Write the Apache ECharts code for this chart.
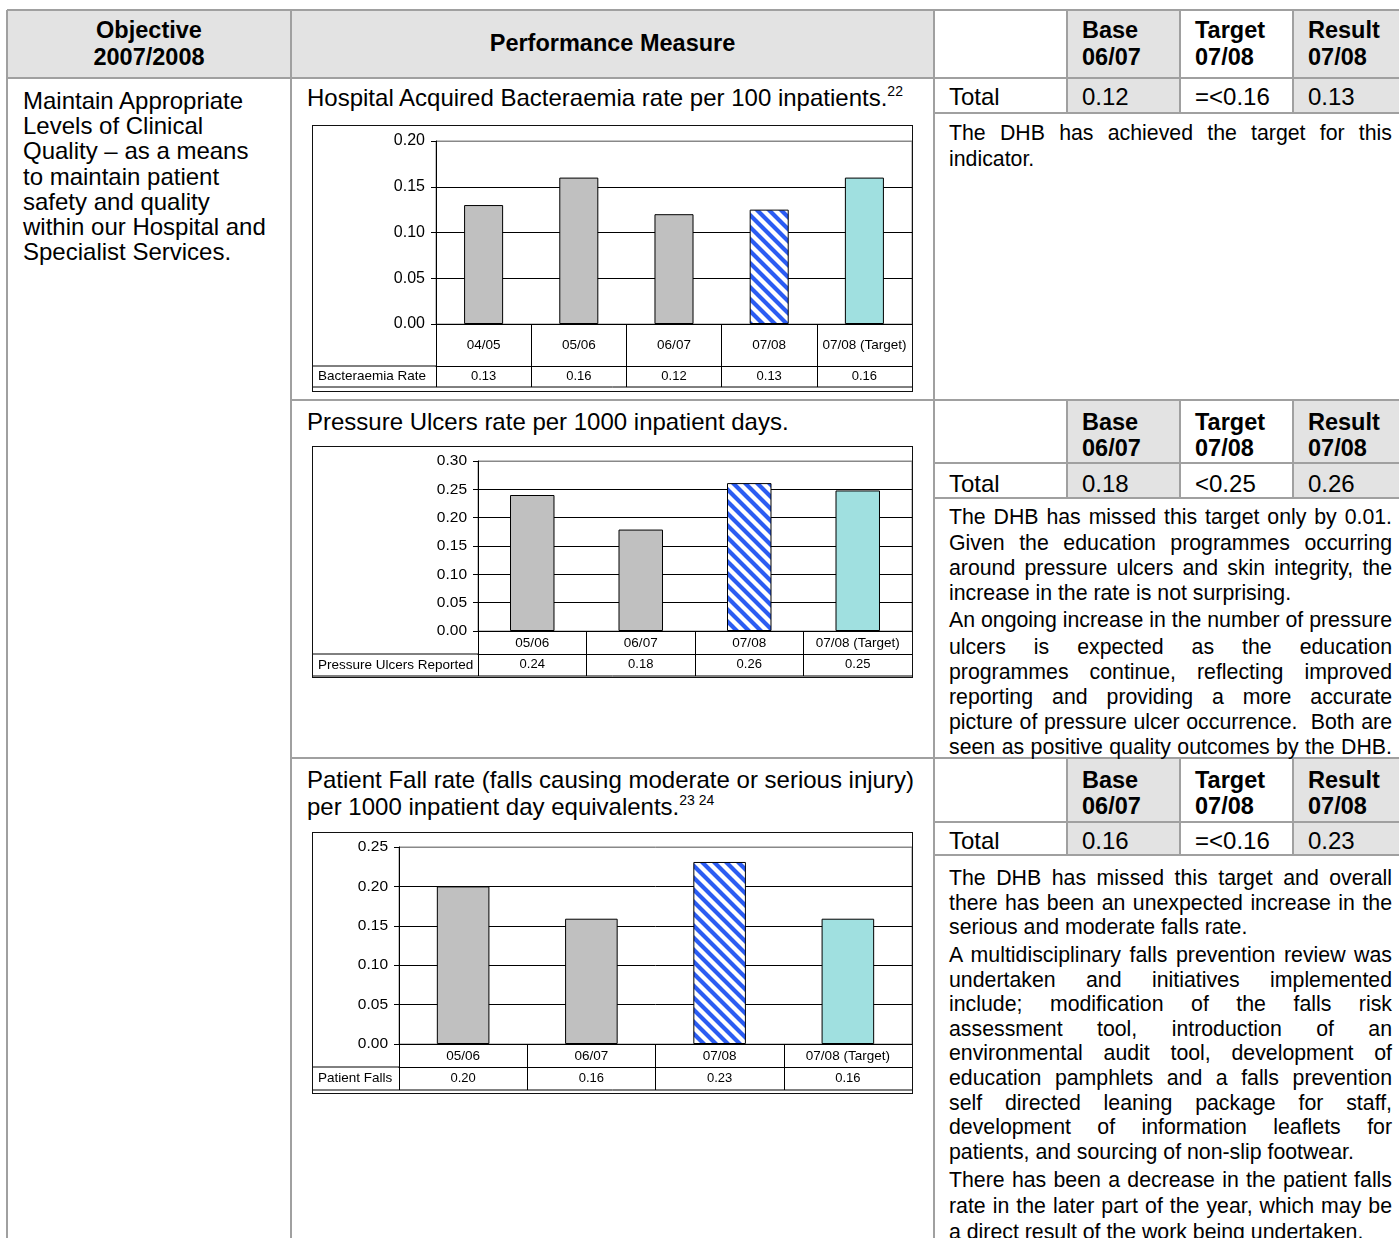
<!DOCTYPE html>
<html>
<head>
<meta charset="utf-8">
<script src="https://cdn.jsdelivr.net/npm/echarts@6/dist/echarts.min.js"></script>
<style>
	body { margin: 0; background: #fff; }
	#page { position: relative; width: 1399px; height: 1238px; overflow: hidden;
		font-family: "Liberation Sans", Arial, sans-serif; color: #000; }
	.t { position: absolute; white-space: nowrap; }
	.h { position: absolute; background: #a0a0a0; }
	.f { position: absolute; background: #e3e3e3; }
	.box { position: absolute; border: 1px solid #111; box-sizing: border-box; background: #fff; }
	.box .c { position: absolute; left: 0; top: 0; right: 0; bottom: 0; }
	sup { font-size: 14px; line-height: 0; vertical-align: 10px; }
</style>
</head>
<body>
<div id="page"></div>
<script>
// ---- chart data ----
var bactCats = ['04/05', '05/06', '06/07', '07/08', '07/08 (Target)'];
var bactValues = [0.13, 0.16, 0.12, 0.125, 0.16];
var bactTable = ['0.13', '0.16', '0.12', '0.13', '0.16'];

var ulcerCats = ['05/06', '06/07', '07/08', '07/08 (Target)'];
var ulcerValues = [0.24, 0.179, 0.261, 0.248];
var ulcerTable = ['0.24', '0.18', '0.26', '0.25'];

var fallCats = ['05/06', '06/07', '07/08', '07/08 (Target)'];
var fallValues = [0.20, 0.159, 0.231, 0.159];
var fallTable = ['0.20', '0.16', '0.23', '0.16'];

// summary tables on the right
var colHeads = [['Base', '06/07'], ['Target', '07/08'], ['Result', '07/08']];
var bactTotals = ['0.12', '=<0.16', '0.13'];
var ulcerTotals = ['0.18', '<0.25', '0.26'];
var fallTotals = ['0.16', '=<0.16', '0.23'];

var page = document.getElementById('page');

function el(cls, css, html) {
	var d = document.createElement('div');
	d.className = cls;
	for (var k in css) d.style[k] = css[k];
	if (html != null) d.innerHTML = html;
	page.appendChild(d);
	return d;
}
function hline(x1, x2, y) { el('h', {left: x1 + 'px', top: (y - 1) + 'px', width: (x2 - x1) + 'px', height: '2px'}); }
function vline(x, y1, y2) { el('h', {left: (x - 1) + 'px', top: y1 + 'px', width: '2px', height: (y2 - y1) + 'px'}); }
function fill(x1, x2, y1, y2) { el('f', {left: x1 + 'px', top: y1 + 'px', width: (x2 - x1) + 'px', height: (y2 - y1) + 'px'}); }
// y is the centre of the line
function text(x, y, s, size, bold) {
	el('t', {left: x + 'px', top: (y - 13) + 'px', fontSize: size + 'px', lineHeight: '26px',
		fontWeight: bold ? 'bold' : 'normal'}, s);
}
function ctext(x1, x2, y, s, size, bold) {
	el('t', {left: x1 + 'px', width: (x2 - x1) + 'px', textAlign: 'center', top: (y - 13) + 'px',
		fontSize: size + 'px', lineHeight: '26px', fontWeight: bold ? 'bold' : 'normal'}, s);
}
function jtext(x, w, y, s, size, justify) {
	el('t', {left: x + 'px', width: w + 'px', top: (y - 13) + 'px', fontSize: size + 'px', lineHeight: '26px',
		whiteSpace: 'normal', textAlign: justify ? 'justify' : 'left', textAlignLast: justify ? 'justify' : 'left'}, s);
}

// ---- table frame ----
var COL = [934, 1067, 1180, 1293, 1400];
fill(8, 290, 11, 77);
fill(292, 933, 11, 77);
fill(1068, 1179, 11, 77);
fill(1294, 1400, 11, 77);
fill(1068, 1179, 79, 112);
fill(1294, 1400, 79, 112);

function sectionHead(y0, y1, y2, totals) {
	fill(1068, 1179, y0 + 1, y2 - 1);
	fill(1294, 1400, y0 + 1, y2 - 1);
	hline(934, 1400, y1);
	hline(934, 1400, y2);
	for (var i = 1; i < 4; i++) vline(COL[i], y0, y2);
	for (var j = 0; j < 3; j++) {
		text(COL[j + 1] + 15, y0 + 22, colHeads[j][0], 23.5, true);
		text(COL[j + 1] + 15, y0 + 48, colHeads[j][1], 23.5, true);
	}
	text(949, y2 - 14, 'Total', 24);
	for (var k = 0; k < 3; k++) text(COL[k + 1] + 15, y2 - 14, totals[k], 24);
}

hline(7, 1400, 10);
hline(7, 1400, 78);
vline(7, 10, 1238);
vline(291, 10, 1238);
vline(934, 10, 1238);
for (var i = 1; i < 4; i++) vline(COL[i], 10, 113);
hline(934, 1400, 113);
hline(291, 1400, 400);
hline(291, 1400, 758);

// header row
ctext(7, 291, 30, 'Objective', 23.5, true);
ctext(7, 291, 57, '2007/2008', 23.5, true);
ctext(291, 934, 43, 'Performance Measure', 23.5, true);
for (var j = 0; j < 3; j++) {
	text(COL[j + 1] + 15, 30, colHeads[j][0], 23.5, true);
	text(COL[j + 1] + 15, 57, colHeads[j][1], 23.5, true);
}
text(949, 97, 'Total', 24);
for (var k = 0; k < 3; k++) text(COL[k + 1] + 15, 97, bactTotals[k], 24);

sectionHead(400, 463, 498, ulcerTotals);
sectionHead(758, 822, 855, fallTotals);

// objective column
var objLines = ['Maintain Appropriate', 'Levels of Clinical', 'Quality \u2013 as a means', 'to maintain patient',
	'safety and quality', 'within our Hospital and', 'Specialist Services.'];
objLines.forEach(function(s, i) { text(23, 101 + i * 25.2, s, 24); });

// measure titles
text(307, 98, 'Hospital Acquired Bacteraemia rate per 100 inpatients.<sup>22</sup>', 24);
text(307, 422, 'Pressure Ulcers rate per 1000 inpatient days.', 24);
text(307, 780, 'Patient Fall rate (falls causing moderate or serious injury)', 24);
text(307, 807, 'per 1000 inpatient day equivalents.<sup>23 24</sup>', 24);

// commentary
var notes = [
	[133, 'The DHB has achieved the target for this', 1],
	[159, 'indicator.', 0],
	[517, 'The DHB has missed this target only by 0.01.', 1],
	[543, 'Given the education programmes occurring', 1],
	[568, 'around pressure ulcers and skin integrity, the', 1],
	[593, 'increase in the rate is not surprising.', 0],
	[620, 'An ongoing increase in the number of pressure', 1],
	[647, 'ulcers is expected as the education', 1],
	[672, 'programmes continue, reflecting improved', 1],
	[697, 'reporting and providing a more accurate', 1],
	[722, 'picture of pressure ulcer occurrence.&nbsp; Both are', 1],
	[747, 'seen as positive quality outcomes by the DHB.', 1],
	[878, 'The DHB has missed this target and overall', 1],
	[903, 'there has been an unexpected increase in the', 1],
	[927, 'serious and moderate falls rate.', 0],
	[955, 'A multidisciplinary falls prevention review was', 1],
	[980, 'undertaken and initiatives implemented', 1],
	[1004, 'include; modification of the falls risk', 1],
	[1029, 'assessment tool, introduction of an', 1],
	[1053, 'environmental audit tool, development of', 1],
	[1078, 'education pamphlets and a falls prevention', 1],
	[1103, 'self directed leaning package for staff,', 1],
	[1127, 'development of information leaflets for', 1],
	[1152, 'patients, and sourcing of non-slip footwear.', 0],
	[1180, 'There has been a decrease in the patient falls', 1],
	[1206, 'rate in the later part of the year, which may be', 1],
	[1232, 'a direct result of the work being undertaken.', 0]
];
notes.forEach(function(n) { jtext(949, 443, n[0], n[1], 21.3, n[2]); });

// ---- charts ----
function stripes() {
	var s = 12;
	var c = document.createElement('canvas');
	c.width = s; c.height = s;
	var g = c.getContext('2d');
	g.fillStyle = '#fff';
	g.fillRect(0, 0, s, s);
	g.strokeStyle = '#2b5cf2';
	g.lineWidth = 4.2;
	g.beginPath();
	g.moveTo(-s / 2, -s / 2); g.lineTo(s * 1.5, s * 1.5);
	g.moveTo(-s / 2, s / 2); g.lineTo(s / 2, s * 1.5);
	g.moveTo(s / 2, -s / 2); g.lineTo(s * 1.5, s / 2);
	g.stroke();
	return c;
}
var hatch = stripes();

function barChart(L, cats, values, table, rowName) {
	var box = el('box', {left: L.left + 'px', top: L.top + 'px', width: L.width + 'px', height: L.height + 'px'});
	var div = document.createElement('div');
	div.className = 'c';
	box.appendChild(div);
	var chart = echarts.init(div);
	var n = cats.length;
	var ticks = Math.round(L.yMax / 0.05) + 1;
	var splitColors = [];
	for (var i = 0; i < ticks; i++) splitColors.push(i === ticks - 1 ? '#888' : '#000');
	var tableTop = L.gridTop + L.plotH + L.catH;
	var tableBottom = tableTop + L.dataH;
	var w = L.width - 2;

	var option = {
		animation: false,
		textStyle: {fontFamily: '"Liberation Sans", Arial, sans-serif', color: '#000'},
		grid: {left: L.gridLeft, top: L.gridTop, right: 0, height: L.plotH, containLabel: false,
			outerBoundsMode: 'none', show: true, borderColor: '#888', borderWidth: 1},
		xAxis: [{
			type: 'category', data: cats, position: 'bottom',
			axisLine: {show: true, lineStyle: {color: '#000', width: 1}},
			axisTick: {show: true, interval: 0, length: L.catH + L.dataH, lineStyle: {color: '#000'}},
			axisLabel: {interval: 0, fontSize: 13.5, color: '#000', margin: L.catMargin},
			splitLine: {show: false}
		}, {
			type: 'category', data: cats, position: 'bottom', offset: L.catH,
			axisLine: {show: true, lineStyle: {color: '#000', width: 1}},
			axisTick: {show: false},
			axisLabel: {interval: 0, fontSize: 13, color: '#000', margin: L.dataMargin,
				formatter: function(v, idx) { return table[idx]; }},
			splitLine: {show: false}
		}],
		yAxis: {
			type: 'value', min: 0, max: L.yMax, interval: 0.05,
			axisLine: {show: true, lineStyle: {color: '#000'}},
			axisTick: {show: true, length: 5, lineStyle: {color: '#000'}},
			axisLabel: {fontSize: L.yFont, color: '#000', margin: 11,
				formatter: function(v) { return v.toFixed(2); }},
			splitLine: {show: true, lineStyle: {color: splitColors, width: 1}}
		},
		graphic: [
			{type: 'line', shape: {x1: 0, y1: tableTop, x2: L.gridLeft, y2: tableTop}, style: {stroke: '#000', lineWidth: 1}},
			{type: 'line', shape: {x1: 0, y1: tableBottom, x2: w, y2: tableBottom}, style: {stroke: '#000', lineWidth: 1}},
			{type: 'text', x: 5, y: tableTop + L.dataH / 2,
				style: {text: rowName, fontSize: 13.5, fontFamily: '"Liberation Sans", Arial, sans-serif',
					fill: '#000', align: 'left', verticalAlign: 'middle'}}
		],
		series: [{
			type: 'bar', xAxisIndex: 0, yAxisIndex: 0, barWidth: '41%',
			itemStyle: {borderColor: '#000', borderWidth: 1},
			data: values.map(function(v, i) {
				var c = '#c0c0c0';
				if (i === n - 1) c = '#a0e0e0';
				else if (i === n - 2) c = {image: hatch, repeat: 'repeat'};
				return {value: v, itemStyle: {color: c}};
			})
		}]
	};
	chart.setOption(option);
	return chart;
}

barChart({left: 312, top: 125, width: 601, height: 267, gridLeft: 123, gridTop: 15, plotH: 183,
	catH: 42, dataH: 21, catMargin: 14, dataMargin: 4, yMax: 0.20, yFont: 16},
	bactCats, bactValues, bactTable, 'Bacteraemia Rate');
barChart({left: 312, top: 446, width: 601, height: 232, gridLeft: 165, gridTop: 14, plotH: 170,
	catH: 23, dataH: 22, catMargin: 5, dataMargin: 4, yMax: 0.30, yFont: 15.5},
	ulcerCats, ulcerValues, ulcerTable, 'Pressure Ulcers Reported');
barChart({left: 312, top: 832, width: 601, height: 262, gridLeft: 86, gridTop: 14, plotH: 197,
	catH: 23, dataH: 23, catMargin: 5, dataMargin: 5, yMax: 0.25, yFont: 15.5},
	fallCats, fallValues, fallTable, 'Patient Falls');
</script>
</body>
</html>
